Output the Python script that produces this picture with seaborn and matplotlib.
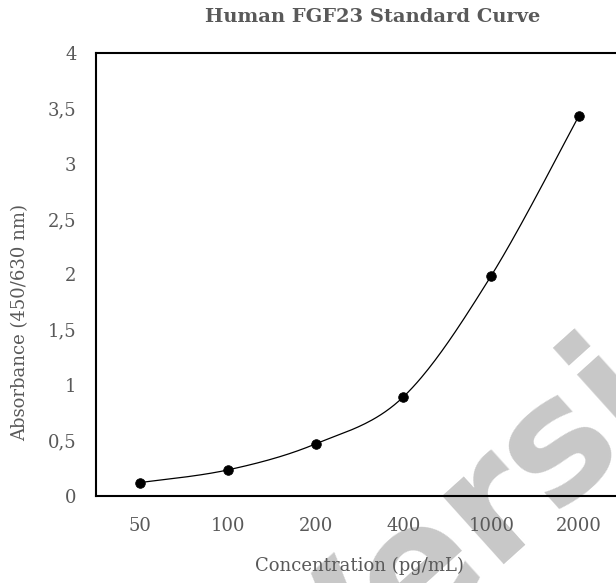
import numpy as np
import pandas as pd
import seaborn as sns
import matplotlib.pyplot as plt

# Standard curve data
concentrations = ['50', '100', '200', '400', '1000', '2000']
absorbance = [0.121, 0.235, 0.470, 0.895, 1.988, 3.433]
y_ticks = [0, 0.5, 1, 1.5, 2, 2.5, 3, 3.5, 4]
y_tick_labels = ['0', '0,5', '1', '1,5', '2', '2,5', '3', '3,5', '4']

df = pd.DataFrame({'conc': concentrations, 'abs': absorbance})
df['pos'] = np.arange(len(df))

sns.set_theme(style='white')
plt.rcParams['font.family'] = ['DejaVu Serif']
grey = '#595959'


def smooth(x, y, n=40):
    # Catmull-Rom style bezier, like Excel's smoothed line
    px = np.concatenate([[x[0]], x, [x[-1]]])
    py = np.concatenate([[y[0]], y, [y[-1]]])
    xs, ys = [], []
    t = np.linspace(0, 1, n)
    for i in range(1, len(px) - 2):
        p0 = np.array([px[i], py[i]])
        p3 = np.array([px[i + 1], py[i + 1]])
        c1 = p0 + (p3 - np.array([px[i - 1], py[i - 1]])) / 6
        c2 = p3 - (np.array([px[i + 2], py[i + 2]]) - p0) / 6
        b = ((1 - t) ** 3)[:, None] * p0 + (3 * (1 - t) ** 2 * t)[:, None] * c1 \
            + (3 * (1 - t) * t ** 2)[:, None] * c2 + (t ** 3)[:, None] * p3
        xs.extend(b[:, 0])
        ys.extend(b[:, 1])
    return np.array(xs), np.array(ys)


fig = plt.figure(figsize=(6.16, 5.83), dpi=100)
ax = fig.add_axes([96 / 616, 87 / 583, 527 / 616, 443.3 / 583])
ax.patch.set_alpha(0)

# watermark
ax.text(0.865, 0.085, 'Version', transform=ax.transAxes, rotation=42,
        fontsize=120, fontweight='bold', family='DejaVu Sans', color='#c8c8c8',
        ha='center', va='center', clip_on=False, zorder=0.5)

sx, sy = smooth(df['pos'].values.astype(float), df['abs'].values)
curve = pd.DataFrame({'x': sx, 'y': sy})
sns.lineplot(data=curve, x='x', y='y', sort=False, color='black', lw=0.9, ax=ax, zorder=3)
sns.scatterplot(data=df, x='pos', y='abs', color='black', s=48, edgecolor='black',
                ax=ax, zorder=4)

ax.set_xlim(-0.5, 5.5)
ax.set_ylim(0, 4)
ax.set_xticks(df['pos'])
ax.set_xticklabels(concentrations)
ax.set_yticks(y_ticks)
ax.set_yticklabels(y_tick_labels)
ax.tick_params(axis='both', length=0, labelsize=13, labelcolor=grey)
ax.tick_params(axis='x', pad=15)
ax.tick_params(axis='y', pad=14)

for side in ['left', 'bottom', 'top', 'right']:
    ax.spines[side].set_color('black')
    ax.spines[side].set_linewidth(1.5)

ax.set_xlabel('Concentration (pg/mL)', fontsize=13, color=grey, va='top')
ax.xaxis.set_label_coords(0.5, -0.138)
ax.set_ylabel('Absorbance (450/630 nm)', fontsize=13, color=grey, va='center')
ax.yaxis.set_label_coords(-0.144, 0.392)
ax.set_title('Human FGF23 Standard Curve', fontsize=14, fontweight='bold',
             color=grey, pad=22, x=0.524)

fig.savefig('out.png', dpi=100)
